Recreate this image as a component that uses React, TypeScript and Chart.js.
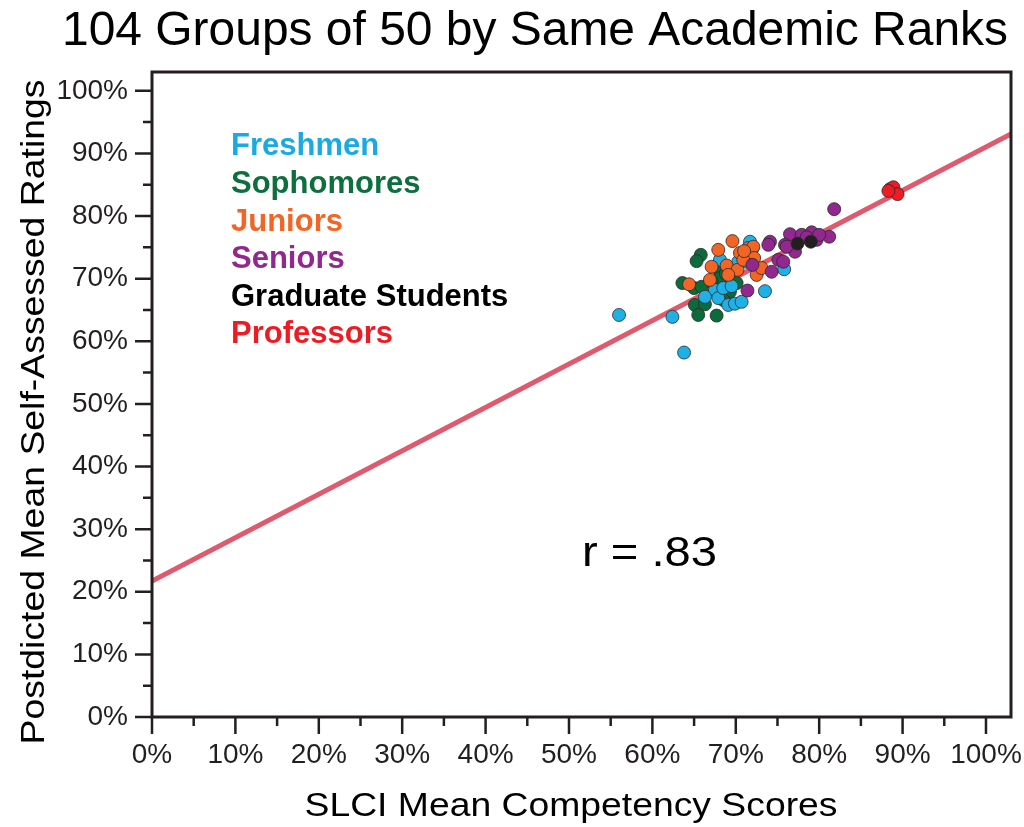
import React, { useEffect, useRef } from 'react';
import { Chart, registerables } from 'chart.js';

Chart.register(...registerables);

// ---- Data (percent values) ----
const freshmen: [number, number][] = [
  [56.0, 64.2], [62.4, 63.9], [63.8, 58.2], [68.1, 73.0], [70.3, 72.7], [71.7, 75.9],
  [71.3, 72.7], [67.5, 68.2], [66.3, 67.1], [67.9, 66.9], [69.1, 65.8], [69.9, 66.0],
  [70.7, 66.3], [73.5, 68.0], [75.8, 71.5], [68.5, 68.5], [69.5, 68.8], [72.0, 74.8],
];
const sophomores: [number, number][] = [
  [65.8, 73.8], [65.3, 72.8], [63.6, 69.3], [65.0, 68.5], [65.9, 68.7], [68.0, 71.4],
  [68.1, 70.1], [70.1, 69.3], [69.3, 67.9], [68.5, 66.6], [65.1, 65.8], [66.3, 65.9],
  [65.5, 64.2], [67.7, 64.1], [67.1, 69.5], [68.8, 70.8],
];
const juniors: [number, number][] = [
  [69.6, 76.0], [67.9, 74.6], [70.5, 74.1], [71.5, 74.9], [72.1, 75.1], [67.1, 71.9],
  [68.9, 72.1], [70.2, 71.4], [66.9, 69.8], [64.4, 69.1], [69.1, 70.6], [72.5, 70.6],
  [72.2, 73.3], [73.1, 71.7], [70.9, 73.0], [71.0, 74.4],
];
const seniors: [number, number][] = [
  [81.8, 81.1], [74.1, 75.9], [73.9, 75.4], [76.5, 77.1], [77.9, 77.0], [79.1, 77.4],
  [81.2, 76.7], [79.7, 76.2], [75.9, 75.4], [77.1, 74.3], [75.1, 73.0], [75.7, 72.7],
  [74.3, 71.1], [72.0, 72.2], [71.4, 68.1], [76.1, 75.1], [78.5, 76.6], [80.0, 77.0],
];
const graduates: [number, number][] = [[77.4, 75.6], [79.0, 75.9]];
const professors: [number, number][] = [[88.5, 84.3], [88.9, 84.6], [89.4, 83.5], [88.3, 84.0]];

const fitLineX = [0, 103];
const fitLineY = [21.7, 93.1];

const groupNames = ['Freshmen', 'Sophomores', 'Juniors', 'Seniors', 'Graduate Students', 'Professors'];
const groupColors = ['#1fb0e6', '#0b6b3a', '#f26524', '#92278f', '#231f20', '#ed1c24'];
const legendColors = ['#1aaae2', '#0d6e3e', '#f26524', '#92278f', '#000000', '#ed1c24'];
const drawOrder = [5, 6, 4, 3, 2, 1];

const titleText = '104 Groups of 50 by Same Academic Ranks';
const xTitle = 'SLCI Mean Competency Scores';
const yTitle = 'Postdicted Mean Self-Assessed Ratings';
const rText = 'r = .83';

const FONT = '"Liberation Sans", Arial, sans-serif';

function fitText(ctx: CanvasRenderingContext2D, text: string, x: number, y: number, font: string, width: number, align: CanvasTextAlign, rotate = 0) {
  ctx.save();
  ctx.font = font;
  const w = ctx.measureText(text).width;
  const s = width / w;
  ctx.translate(x, y);
  if (rotate) ctx.rotate(rotate);
  ctx.scale(s, 1);
  ctx.textAlign = align;
  ctx.textBaseline = 'alphabetic';
  ctx.fillText(text, 0, 0);
  ctx.restore();
}

const decoPlugin = {
  id: 'deco',
  afterDraw(chart: any) {
    const { ctx, chartArea: a, scales } = chart;
    const x = scales.x, y = scales.y;
    ctx.save();
    ctx.strokeStyle = '#231f20';
    ctx.lineWidth = 3;
    ctx.strokeRect(a.left, a.top, a.right - a.left, a.bottom - a.top);
    ctx.lineWidth = 2.5;
    ctx.beginPath();
    for (let v = 0; v <= 100; v += 5) {
      const len = v % 10 === 0 ? 17 : 9;
      const px = x.getPixelForValue(v);
      ctx.moveTo(px, a.bottom);
      ctx.lineTo(px, a.bottom + len);
      const py = y.getPixelForValue(v);
      ctx.moveTo(a.left - len, py);
      ctx.lineTo(a.left, py);
    }
    ctx.stroke();

    ctx.fillStyle = '#000';
    fitText(ctx, titleText, 535, 45, `48px ${FONT}`, 946, 'center');
    fitText(ctx, xTitle, 571, 816, `34px ${FONT}`, 533, 'center');
    fitText(ctx, yTitle, 44, 412, `34px ${FONT}`, 665, 'center', -Math.PI / 2);
    fitText(ctx, rText, 582, 566, `42px ${FONT}`, 135, 'left');

    const baselines = [155, 193, 231, 268, 306, 343];
    ctx.font = `bold 31px ${FONT}`;
    ctx.textAlign = 'left';
    ctx.textBaseline = 'alphabetic';
    groupNames.forEach((n, i) => {
      ctx.fillStyle = legendColors[i];
      ctx.fillText(n, 231, baselines[i]);
    });
    ctx.restore();
  },
};

export default function App() {
  const ref = useRef<HTMLCanvasElement | null>(null);
  useEffect(() => {
    if (!ref.current) return;
    Chart.defaults.font.family = FONT;
    const groups = [freshmen, sophomores, juniors, seniors, graduates, professors];
    const scatterSets = groups.map((g, i) => ({
      type: 'scatter' as const,
      label: groupNames[i],
      data: g.map(([px, py]) => ({ x: px, y: py })),
      backgroundColor: groupColors[i],
      borderColor: '#2a2a2a',
      borderWidth: 0.8,
      pointRadius: 6.5,
      order: drawOrder[i],
    }));
    const lineSet = {
      type: 'line' as const,
      label: 'fit',
      data: fitLineX.map((v, i) => ({ x: v, y: fitLineY[i] })),
      borderColor: '#df5a6c',
      borderWidth: 5,
      pointRadius: 0,
      fill: false,
      order: 7,
    };
    const chart = new Chart(ref.current, {
      type: 'scatter',
      data: { datasets: [lineSet as any, ...scatterSets] },
      options: {
        responsive: false,
        animation: false,
        layout: { padding: { top: 72, right: 13, left: 0, bottom: 0 } },
        plugins: { legend: { display: false }, tooltip: { enabled: false }, title: { display: false } },
        scales: {
          x: {
            type: 'linear',
            min: 0,
            max: 103,
            afterFit: (s: any) => { s.height = 110; s.paddingLeft = 0; s.paddingRight = 0; },
            grid: { display: false, drawTicks: false },
            border: { display: false },
            ticks: {
              stepSize: 10,
              includeBounds: false,
              autoSkip: false,
              maxRotation: 0,
              padding: 21,
              color: '#231f20',
              font: { size: 28, family: FONT },
              callback: (v: any) => `${v}%`,
            },
          },
          y: {
            type: 'linear',
            min: 0,
            max: 103,
            afterFit: (s: any) => { s.width = 152; s.paddingTop = 0; s.paddingBottom = 0; },
            grid: { display: false, drawTicks: false },
            border: { display: false },
            ticks: {
              stepSize: 10,
              includeBounds: false,
              autoSkip: false,
              padding: 24,
              color: '#231f20',
              font: { size: 28, family: FONT },
              callback: (v: any) => `${v}%`,
            },
          },
        },
      },
      plugins: [decoPlugin],
    });
    return () => chart.destroy();
  }, []);
  return (
    <div style={{ position: 'fixed', left: 0, top: 0, width: 1024, height: 827, background: '#fff' }}>
      <canvas ref={ref} width={1024} height={827} style={{ width: 1024, height: 827, display: 'block' }} />
    </div>
  );
}
